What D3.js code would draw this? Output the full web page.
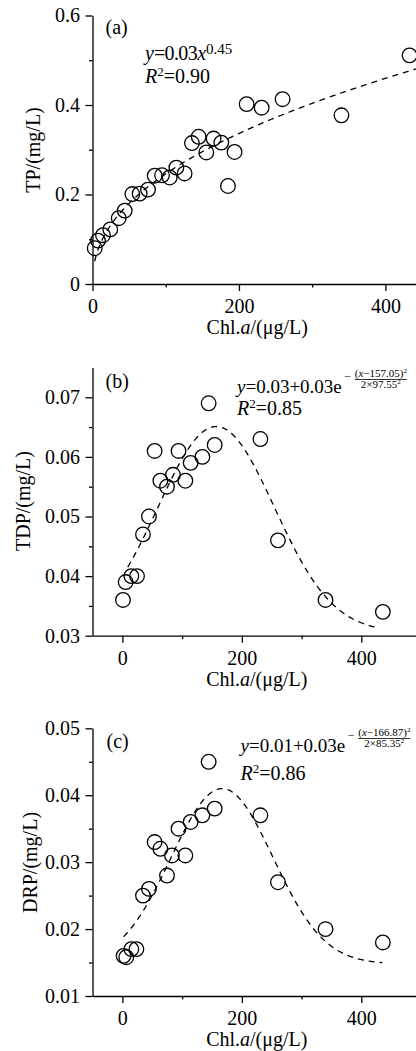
<!DOCTYPE html>
<html><head><meta charset="utf-8">
<script src="https://cdn.jsdelivr.net/npm/d3@7"></script>
<style>
html,body{margin:0;padding:0;background:#fff;}
svg{display:block;}
svg text{font-family:"Liberation Serif","Times New Roman",serif !important;fill:#000;}
</style></head><body>
<svg id="chart" width="416" height="1051" font-family="Liberation Serif"></svg>
<script>
// ---- data ----
const chlA_TP = [3,7.5,14.3,24.3,35.8,44,54.4,64.4,75.8,85,95,105.4,114.5,125.8,135.8,145,155.4,165.4,175.9,185,194,210.5,231,259.6,340,433];
const tp      = [0.080,0.097,0.109,0.122,0.147,0.164,0.201,0.202,0.211,0.242,0.243,0.238,0.260,0.247,0.315,0.329,0.294,0.325,0.316,0.219,0.295,0.402,0.394,0.413,0.377,0.511];
const chlA_TDP = [1,5.5,15,24.5,34.5,44.5,54,63.6,74.7,84.7,94,105.4,114.3,133.9,144.4,154.5,231,260.4,340,436];
const tdp      = [0.036,0.039,0.040,0.040,0.047,0.050,0.061,0.056,0.055,0.057,0.061,0.056,0.059,0.060,0.069,0.062,0.063,0.046,0.036,0.034];
const chlA_DRP = [2,6.5,15,23.5,34.5,44.5,54,63.6,74.7,83,94,105.4,114.3,133.9,144.4,154.5,231,260.4,340,436];
const drp      = [0.016,0.0158,0.017,0.017,0.025,0.026,0.033,0.032,0.028,0.031,0.035,0.031,0.036,0.037,0.045,0.038,0.037,0.027,0.020,0.018];

// fit curve parameters (power: a, b ; gauss: y0, A, mu, sigma) and x extents
const tpFit  = [0.031, 0.45];
const tdpFit = [0.0306, 0.0345, 157.05, 97.55];
const drpFit = [0.0148, 0.0262, 166.87, 85.35];
const tpFitRange  = [3, 450];
const tdpFitRange = [9, 430];
const drpFitRange = [2, 435];

// axes ticks
const xTicksMajor = [0, 200, 400];
const xTicksMinor = [100, 300];
const xTickLabels = ["0", "200", "400"];
const tpTicks = [0, 0.2, 0.4, 0.6];
const tpTickLabels = ["0", "0.2", "0.4", "0.6"];
const tpMinor = [0.1, 0.3, 0.5];
const tdpTicks = [0.03, 0.04, 0.05, 0.06, 0.07];
const tdpTickLabels = ["0.03", "0.04", "0.05", "0.06", "0.07"];
const tdpMinor = [0.035, 0.045, 0.055, 0.065];
const drpTicks = [0.01, 0.02, 0.03, 0.04, 0.05];
const drpTickLabels = ["0.01", "0.02", "0.03", "0.04", "0.05"];
const drpMinor = [0.015, 0.025, 0.035, 0.045];

// ---- drawing ----
const svg = d3.select("#chart");
const FS = 20;
const SERIF = '"Liberation Serif", "Times New Roman", serif';

function drawPanel(p) {
  const x = d3.scaleLinear().domain(p.xDomain).range(p.xRange);
  const y = d3.scaleLinear().domain(p.yDomain).range(p.yRange);
  const g = svg.append("g");
  const y0 = p.yRange[0], x0 = p.xRange[0];

  g.append("g").attr("transform", `translate(0,${y0})`)
    .call(d3.axisBottom(x).tickValues(xTicksMajor).tickSize(7).tickSizeOuter(0).tickPadding(8)
      .tickFormat((d, i) => xTickLabels[i]));
  g.append("g").attr("transform", `translate(0,${y0})`)
    .call(d3.axisBottom(x).tickValues(xTicksMinor).tickSize(3.5).tickFormat(""))
    .call(s => s.select(".domain").remove());
  g.append("g").attr("transform", `translate(${x0},0)`)
    .call(d3.axisLeft(y).tickValues(p.yTicks).tickSize(7).tickSizeOuter(0).tickPadding(5.5)
      .tickFormat((d, i) => p.yLabels[i]));
  g.append("g").attr("transform", `translate(${x0},0)`)
    .call(d3.axisLeft(y).tickValues(p.yMinor).tickSize(3.5).tickFormat(""))
    .call(s => s.select(".domain").remove());
  g.selectAll("g").attr("font-family", SERIF);
  g.selectAll(".tick text").style("font-family", SERIF).attr("font-size", FS);
  g.selectAll(".domain, .tick line").attr("stroke", "#000").attr("stroke-width", 1.3);

  const xs = d3.range(p.fitRange[0], p.fitRange[1] + 0.001, (p.fitRange[1] - p.fitRange[0]) / 200);
  g.append("path")
    .attr("d", d3.line().x(d => x(d)).y(d => y(p.fitFn(d)))(xs))
    .attr("fill", "none").attr("stroke", "#000").attr("stroke-width", 1.3)
    .attr("stroke-dasharray", "6,5");

  g.selectAll("circle.pt").data(p.xs).join("circle").attr("class", "pt")
    .attr("cx", d => x(d)).attr("cy", (d, i) => y(p.ys[i])).attr("r", 7.3)
    .attr("fill", "none").attr("stroke", "#000").attr("stroke-width", 1.3);

  const xt = g.append("text").attr("x", (p.xRange[0] + p.xRange[1]) / 2).attr("y", y0 + p.xTitleDy)
    .attr("text-anchor", "middle").attr("font-size", FS);
  xt.append("tspan").text("Chl.");
  xt.append("tspan").attr("font-style", "italic").text("a");
  xt.append("tspan").text("/(μg/L)");
  g.append("text").attr("transform", `translate(${p.yTitleX},${p.yTitleY}) rotate(-90)`)
    .attr("text-anchor", "middle").attr("font-size", FS).text(p.yTitle);

  g.append("text").attr("x", p.labelPos[0]).attr("y", p.labelPos[1]).attr("font-size", FS).text(p.label);
  return g;
}

// Panel (a)
const ga = drawPanel({
  xDomain: [0, 450], xRange: [92.5, 422], yDomain: [0, 0.6], yRange: [284, 15.5],
  yTicks: tpTicks, yLabels: tpTickLabels, yMinor: tpMinor,
  xs: chlA_TP, ys: tp, fitRange: tpFitRange,
  fitFn: v => tpFit[0] * Math.pow(v, tpFit[1]),
  xTitleDy: 50, yTitle: "TP/(mg/L)", yTitleX: 40, yTitleY: 150,
  label: "(a)", labelPos: [105.5, 34]
});
{
  const t = ga.append("text").attr("x", 145).attr("y", 59.5).attr("font-size", FS);
  t.append("tspan").attr("font-style", "italic").text("y");
  t.append("tspan").attr("letter-spacing", -0.6).text("=0.03");
  t.append("tspan").attr("font-style", "italic").text("x");
  t.append("tspan").attr("font-size", 15).attr("dy", -6).text("0.45");
  t.append("tspan").attr("x", 145).attr("dy", 29.5).attr("font-style", "italic").text("R");
  t.append("tspan").attr("font-size", 13).attr("dy", -7).text("2");
  t.append("tspan").attr("dy", 7).text("=0.90");
}

// Panel (b)
const gb = drawPanel({
  xDomain: [-50, 500], xRange: [92.5, 421.1], yDomain: [0.03, 0.075], yRange: [635.7, 367.5],
  yTicks: tdpTicks, yLabels: tdpTickLabels, yMinor: tdpMinor,
  xs: chlA_TDP, ys: tdp, fitRange: tdpFitRange,
  fitFn: v => tdpFit[0] + tdpFit[1] * Math.exp(-Math.pow(v - tdpFit[2], 2) / (2 * tdpFit[3] * tdpFit[3])),
  xTitleDy: 50, yTitle: "TDP/(mg/L)", yTitleX: 30, yTitleY: 501,
  label: "(b)", labelPos: [105.5, 388]
});

function gaussEq(g, xs, base, y0txt, mu, sig, r2, rBase) {
  const t = g.append("text").attr("x", xs).attr("y", base).attr("font-size", 19);
  t.append("tspan").attr("font-style", "italic").text("y");
  t.append("tspan").text("=" + y0txt + "+0.03e");
  const w = t.node().getComputedTextLength();
  const r = g.append("text").attr("x", xs).attr("y", rBase).attr("font-size", FS);
  r.append("tspan").attr("font-style", "italic").text("R");
  r.append("tspan").attr("font-size", 13).attr("dy", -7).text("2");
  r.append("tspan").attr("dy", 7).text("=" + r2);
  const ex = xs + w + 2.5;
  g.append("text").attr("x", ex).attr("y", base - 13).attr("font-size", 12).text("−");
  const fx = ex + 36.5;
  const num = g.append("text").attr("x", fx).attr("y", base - 16).attr("font-size", 11).attr("text-anchor", "middle");
  num.append("tspan").text("(");
  num.append("tspan").attr("font-style", "italic").text("x");
  num.append("tspan").text("−" + mu + ")");
  num.append("tspan").attr("font-size", 7).attr("dy", -4).text("2");
  g.append("line").attr("x1", fx - 26).attr("x2", fx + 26).attr("y1", base - 13.5).attr("y2", base - 13.5)
    .attr("stroke", "#000").attr("stroke-width", 0.8);
  const den = g.append("text").attr("x", fx).attr("y", base - 5.5).attr("font-size", 11).attr("text-anchor", "middle");
  den.append("tspan").text("2×" + sig);
  den.append("tspan").attr("font-size", 7).attr("dy", -4).text("2");
}
gaussEq(gb, 237, 393, "0.03", "157.05", "97.55", "0.85", 415);

// Panel (c)
const gc = drawPanel({
  xDomain: [-50, 500], xRange: [92.5, 421.1], yDomain: [0.01, 0.05], yRange: [996, 728.3],
  yTicks: drpTicks, yLabels: drpTickLabels, yMinor: drpMinor,
  xs: chlA_DRP, ys: drp, fitRange: drpFitRange,
  fitFn: v => drpFit[0] + drpFit[1] * Math.exp(-Math.pow(v - drpFit[2], 2) / (2 * drpFit[3] * drpFit[3])),
  xTitleDy: 50, yTitle: "DRP/(mg/L)", yTitleX: 37, yTitleY: 862.5,
  label: "(c)", labelPos: [106.5, 748]
});
gaussEq(gc, 240.5, 752, "0.01", "166.87", "85.35", "0.86", 779.5);
</script>
</body></html>
